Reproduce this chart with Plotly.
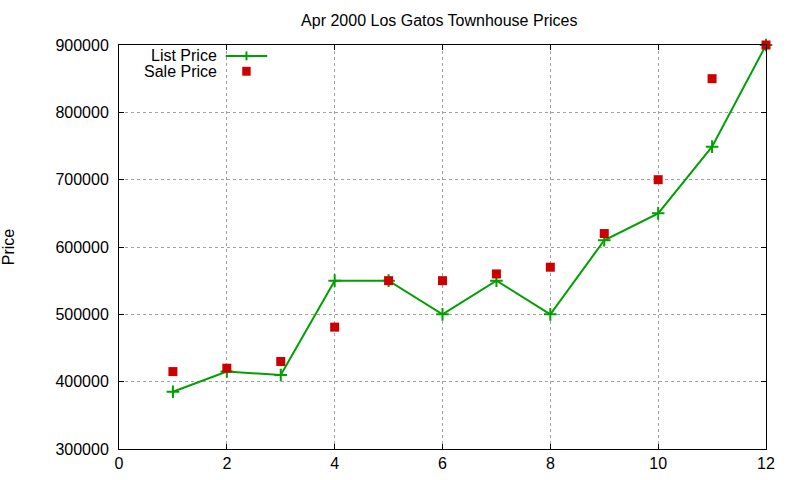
import plotly.graph_objects as go

# data
units = [1, 2, 3, 4, 5, 6, 7, 8, 9, 10, 11, 12]
list_price = [385000, 415000, 410000, 550000, 550000, 500000,
              550000, 500000, 610000, 650000, 749000, 900000]
sale_price = [415000, 420000, 430000, 481000, 550000, 550000,
              560000, 570000, 620000, 700000, 850000, 900000]

x_ticks = [0, 2, 4, 6, 8, 10, 12]
y_ticks = [300000, 400000, 500000, 600000, 700000, 800000, 900000]

green = '#00A000'
red = '#CC0000'
font = 'Liberation Sans, Arial, sans-serif'
fsize = 16

fig = go.Figure()

fig.add_trace(go.Scatter(
    x=units, y=list_price, name='List Price',
    mode='lines+markers',
    line=dict(color=green, width=2),
    marker=dict(symbol='cross-thin', size=9, line=dict(color=green, width=2)),
    cliponaxis=False,
))
fig.add_trace(go.Scatter(
    x=units, y=sale_price, name='Sale Price',
    mode='markers',
    marker=dict(symbol='square', size=9, color=red),
    cliponaxis=False,
))

# gnuplot-style key: text right-aligned, sample to the right
key_text_x = 0.155
fig.add_annotation(xref='paper', yref='paper', x=key_text_x, y=0.973,
                   text='List Price', showarrow=False, xanchor='right',
                   yanchor='middle', font=dict(family=font, size=fsize, color='black'))
fig.add_annotation(xref='paper', yref='paper', x=key_text_x, y=0.935,
                   text='Sale Price', showarrow=False, xanchor='right',
                   yanchor='middle', font=dict(family=font, size=fsize, color='black'))
fig.add_shape(type='line', xref='paper', yref='paper',
              x0=0.165, x1=0.229, y0=0.973, y1=0.973,
              line=dict(color=green, width=2))
fig.add_shape(type='line', xref='paper', yref='paper',
              x0=0.197, x1=0.197, y0=0.962, y1=0.984,
              line=dict(color=green, width=2))
fig.add_shape(type='rect', xref='paper', yref='paper',
              x0=0.1905, x1=0.2035, y0=0.924, y1=0.946,
              fillcolor=red, line=dict(width=0))

axis_common = dict(
    showline=True, linecolor='black', linewidth=1, mirror='allticks',
    ticks='inside', ticklen=5, tickcolor='black', tickwidth=1,
    showgrid=True, gridcolor='#a0a0a0', griddash='dot', gridwidth=1,
    zeroline=False, automargin=False,
    tickfont=dict(family=font, size=fsize, color='black'),
)

fig.update_layout(
    width=800, height=480,
    paper_bgcolor='white', plot_bgcolor='white',
    showlegend=False,
    margin=dict(l=119, r=34, t=45, b=31),
    title=dict(text='Apr 2000 Los Gatos Townhouse Prices',
               x=0.495, xref='paper', xanchor='center',
               y=1 - 20 / 480, yanchor='middle',
               font=dict(family=font, size=fsize, color='black')),
    xaxis=dict(range=[0, 12], tickvals=x_ticks, **axis_common),
    yaxis=dict(range=[300000, 900000], tickvals=y_ticks,
               tickformat='d', ticklabelstandoff=6,
               title=dict(text='Price', standoff=38,
                          font=dict(family=font, size=fsize, color='black')),
               **axis_common),
)

# drop the page's default body margin so the figure sits at the window corner
fig.write_html('out.html', config={'displayModeBar': False},
               post_script="document.body.style.margin='0';")
